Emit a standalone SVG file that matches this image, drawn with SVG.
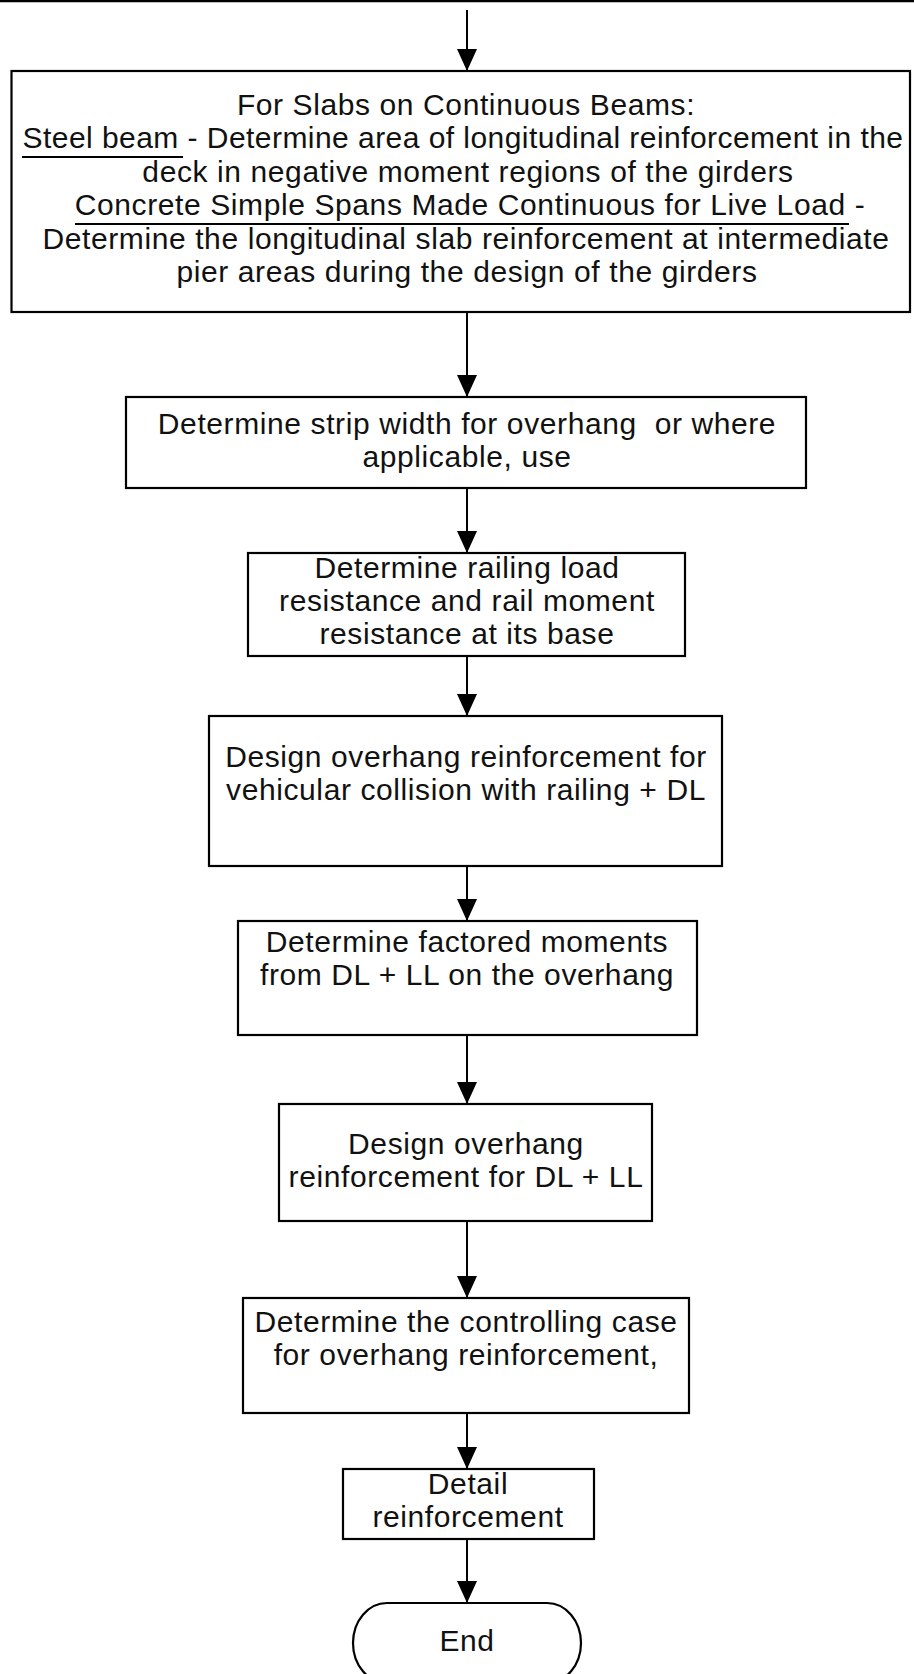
<svg xmlns="http://www.w3.org/2000/svg" width="914" height="1674" viewBox="0 0 914 1674">
  <defs>
    <!-- filled arrowhead, tip sits on the end point of each connector -->
    <marker id="arrow" viewBox="0 0 22 20" refX="22" refY="10" markerWidth="22" markerHeight="20" markerUnits="userSpaceOnUse" orient="auto">
      <path d="M0,0 L22,10 L0,20 Z" fill="#000"/>
    </marker>
    <style>
      .box { fill: #fff; stroke: #000; stroke-width: 2.2; }
      .lbl { font-family: "Liberation Sans", Arial, sans-serif; font-size: 30px; fill: #111; text-anchor: middle; letter-spacing: 0.6px; }
      .edge { stroke: #000; stroke-width: 2; fill: none; marker-end: url(#arrow); }
      .ul { stroke: #000; stroke-width: 2; }
    </style>
  </defs>

  <rect width="914" height="1674" fill="#fff"/>
  <!-- page edge at the top -->
  <line x1="0" y1="1" x2="914" y2="1" stroke="#000" stroke-width="2.5"/>

  <!-- connectors down the centre line, each pointing into the next step -->
  <g id="connectors">
    <path class="edge" d="M467,10 V71"/>
    <path class="edge" d="M467,312 V397"/>
    <path class="edge" d="M467,488 V553"/>
    <path class="edge" d="M467,656 V716"/>
    <path class="edge" d="M467,866 V921"/>
    <path class="edge" d="M467,1035 V1104"/>
    <path class="edge" d="M467,1221 V1298"/>
    <path class="edge" d="M467,1413 V1469"/>
    <path class="edge" d="M467,1539 V1603"/>
  </g>

  <g id="slabs-continuous-beams">
    <rect class="box" x="11.5" y="71" width="898.5" height="241"/>
    <text class="lbl" x="466" y="115">For Slabs on Continuous Beams:</text>
    <text class="lbl" x="463" y="148" style="letter-spacing:0.45px">Steel beam - Determine area of longitudinal reinforcement in the</text>
    <line class="ul" x1="22" y1="157" x2="183" y2="157"/>
    <text class="lbl" x="468" y="182">deck in negative moment regions of the girders</text>
    <text class="lbl" x="470" y="215">Concrete Simple Spans Made Continuous for Live Load -</text>
    <line class="ul" x1="75" y1="224" x2="849" y2="224"/>
    <text class="lbl" x="466" y="249">Determine the longitudinal slab reinforcement at intermediate</text>
    <text class="lbl" x="467" y="282">pier areas during the design of the girders</text>
  </g>

  <g id="strip-width">
    <rect class="box" x="126" y="397" width="680" height="91"/>
    <text class="lbl" x="467" y="434" xml:space="preserve">Determine strip width for overhang  or where</text>
    <text class="lbl" x="467" y="467">applicable, use</text>
  </g>

  <g id="railing-resistance">
    <rect class="box" x="248" y="553" width="437" height="103"/>
    <text class="lbl" x="467" y="578">Determine railing load</text>
    <text class="lbl" x="467" y="611">resistance and rail moment</text>
    <text class="lbl" x="467" y="644">resistance at its base</text>
  </g>

  <g id="collision-design">
    <rect class="box" x="209" y="716" width="513" height="150"/>
    <text class="lbl" x="466" y="767">Design overhang reinforcement for</text>
    <text class="lbl" x="466" y="800">vehicular collision with railing + DL</text>
  </g>

  <g id="factored-moments">
    <rect class="box" x="238" y="921" width="459" height="114"/>
    <text class="lbl" x="467" y="952">Determine factored moments</text>
    <text class="lbl" x="467" y="985">from DL + LL on the overhang</text>
  </g>

  <g id="dl-ll-design">
    <rect class="box" x="279" y="1104" width="373" height="117"/>
    <text class="lbl" x="466" y="1154">Design overhang</text>
    <text class="lbl" x="466" y="1187">reinforcement for DL + LL</text>
  </g>

  <g id="controlling-case">
    <rect class="box" x="243" y="1298" width="446" height="115"/>
    <text class="lbl" x="466" y="1332">Determine the controlling case</text>
    <text class="lbl" x="466" y="1365">for overhang reinforcement,</text>
  </g>

  <g id="detail">
    <rect class="box" x="343" y="1469" width="251" height="70"/>
    <text class="lbl" x="468" y="1494">Detail</text>
    <text class="lbl" x="468" y="1527">reinforcement</text>
  </g>

  <g id="end">
    <path class="box" d="M387,1603 H547 A34,40 0 0 1 547,1683 H387 A34,40 0 0 1 387,1603 Z"/>
    <text class="lbl" x="467" y="1651">End</text>
  </g>
</svg>
